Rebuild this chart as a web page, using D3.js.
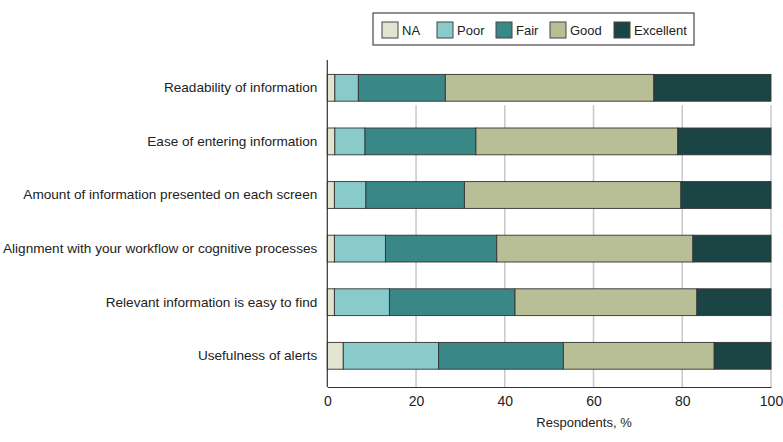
<!DOCTYPE html>
<html>
<head>
<meta charset="utf-8">
<script src="https://cdn.jsdelivr.net/npm/d3@7"></script>
<style>
  body { margin: 0; background: #fff; }
  text { font-family: "Liberation Sans", Arial, sans-serif; fill: #222; }
</style>
</head>
<body>
<script>
// Data
var categories = [
  "Readability of information",
  "Ease of entering information",
  "Amount of information presented on each screen",
  "Alignment with your workflow or cognitive processes",
  "Relevant information is easy to find",
  "Usefulness of alerts"
];
var ratings = ["NA", "Poor", "Fair", "Good", "Excellent"];
var naValues        = [1.7, 1.7, 1.6, 1.6, 1.6, 3.6];
var poorValues      = [5.3, 6.8, 7.1, 11.5, 12.4, 21.5];
var fairValues      = [19.6, 25.0, 22.2, 25.1, 28.3, 28.1];
var goodValues      = [47.0, 45.5, 48.8, 44.2, 41.0, 34.0];
var excellentValues = [26.4, 21.0, 20.3, 17.6, 16.7, 12.8];
var xTicks = [0, 20, 40, 60, 80, 100];
var colors = ["#e2e4cf", "#88cbca", "#3a8787", "#b8bf96", "#1b4545"];

var width = 783, height = 442;

var svg = d3.select("body")
            .append("svg")
            .attr("width", width)
            .attr("height", height);

// build rows for the stack
var rows = categories.map(function(c, i) {
    return {
        category: c,
        NA: naValues[i],
        Poor: poorValues[i],
        Fair: fairValues[i],
        Good: goodValues[i],
        Excellent: excellentValues[i]
    };
});
var stacked = d3.stack().keys(ratings)(rows);

// scales
var xScale = d3.scaleLinear()
               .domain([0, 100])
               .range([327.3, 771]);
var yScale = d3.scaleBand()
               .domain(categories)
               .range([61, 382.6])
               .paddingInner(0.5)
               .paddingOuter(0.25);
var axisY = 387;

// gridlines behind bars
svg.append("g")
    .selectAll("line")
    .data(xTicks.slice(1))
    .enter()
    .append("line")
    .attr("x1", function(d) { return xScale(d); })
    .attr("x2", function(d) { return xScale(d); })
    .attr("y1", yScale(categories[0]) + yScale.bandwidth() + 4)
    .attr("y2", axisY)
    .attr("stroke", "#c8c8c8")
    .attr("stroke-width", 1.5);

// bars
svg.append("g")
    .selectAll("g")
    .data(stacked)
    .enter()
    .append("g")
    .attr("fill", function(d, i) { return colors[i]; })
    .selectAll("rect")
    .data(function(d) { return d; })
    .enter()
    .append("rect")
    .attr("x", function(d) { return xScale(d[0]); })
    .attr("width", function(d) { return xScale(d[1]) - xScale(d[0]); })
    .attr("y", function(d) { return yScale(d.data.category); })
    .attr("height", yScale.bandwidth())
    .attr("stroke", "#333")
    .attr("stroke-width", 0.9);

// x axis
var xAxis = d3.axisBottom(xScale)
              .tickValues(xTicks)
              .tickSize(0)
              .tickPadding(9);
var gx = svg.append("g")
    .attr("transform", "translate(0," + axisY + ")")
    .call(xAxis);
gx.select(".domain").attr("stroke", "#333").attr("stroke-width", 1.2);
gx.selectAll("text").attr("font-size", "14px").attr("font-family", null);

// y axis
var yAxis = d3.axisLeft(yScale)
              .tickSize(0)
              .tickPadding(10);
var gy = svg.append("g")
    .attr("transform", "translate(" + xScale(0) + ",0)")
    .call(yAxis);
gy.select(".domain")
    .attr("d", "M0,60V" + axisY)
    .attr("stroke", "#333")
    .attr("stroke-width", 1.2);
gy.selectAll("text").attr("font-size", "13.6px").attr("font-family", null);

// axis title
svg.append("text")
    .attr("x", 584)
    .attr("y", 427)
    .attr("text-anchor", "middle")
    .attr("font-size", "13px")
    .text("Respondents, %");

// legend
var legend = svg.append("g");
legend.append("rect")
    .attr("x", 373)
    .attr("y", 13)
    .attr("width", 321)
    .attr("height", 32)
    .attr("fill", "#fff")
    .attr("stroke", "#555")
    .attr("stroke-width", 1.3);
var legendX = [382, 437, 496, 550, 614];
var items = legend.selectAll("g.item")
    .data(ratings)
    .enter()
    .append("g")
    .attr("class", "item")
    .attr("transform", function(d, i) { return "translate(" + legendX[i] + ",22)"; });
items.append("rect")
    .attr("width", 16)
    .attr("height", 16)
    .attr("fill", function(d, i) { return colors[i]; })
    .attr("stroke", "#444")
    .attr("stroke-width", 1);
items.append("text")
    .attr("x", 20)
    .attr("y", 8)
    .attr("dy", "0.35em")
    .attr("font-size", "13px")
    .text(function(d) { return d; });
</script>
</body>
</html>
